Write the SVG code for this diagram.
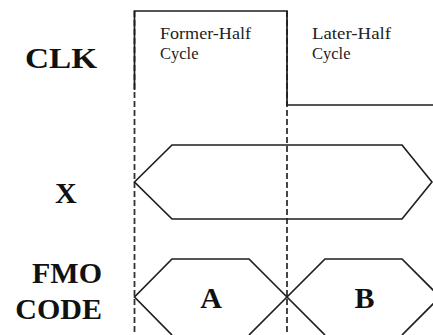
<svg xmlns="http://www.w3.org/2000/svg" width="433" height="335" viewBox="0 0 433 335">
  <style>
    .label { font-family: "Liberation Serif", Tinos, "DejaVu Serif", serif; font-weight: bold; font-size: 30px; fill: #111; }
    .note { font-family: "Liberation Serif", Tinos, "DejaVu Serif", serif; font-size: 16.5px; fill: #222; }
    .wave { fill: none; stroke: #1e1e1e; stroke-width: 1.7; stroke-linejoin: miter; }
    .guide { fill: none; stroke: #333; stroke-width: 1.8; stroke-dasharray: 6 3; }
  </style>
  <rect width="433" height="335" fill="#fff"/>

  <!-- signal names -->
  <g id="names">
    <text class="label" x="25" y="68" textLength="72" lengthAdjust="spacingAndGlyphs">CLK</text>
    <text class="label" x="55" y="203">X</text>
    <text class="label" x="102" y="283" text-anchor="end">FMO</text>
    <text class="label" x="102" y="319" text-anchor="end">CODE</text>
  </g>

  <!-- half-cycle boundaries -->
  <g id="connectors">
    <line class="guide" x1="134.5" y1="11" x2="134.5" y2="335"/>
    <line class="guide" x1="287" y1="11" x2="287" y2="335"/>
  </g>

  <!-- clock waveform -->
  <g id="clk">
    <path class="wave" d="M134.5,90 V11 H287 V105 H433"/>
    <text class="note" x="160" y="39" textLength="91" lengthAdjust="spacingAndGlyphs">Former-Half</text>
    <text class="note" x="160" y="58.5">Cycle</text>
    <text class="note" x="312" y="39" textLength="79" lengthAdjust="spacingAndGlyphs">Later-Half</text>
    <text class="note" x="312" y="58.5">Cycle</text>
  </g>

  <!-- X bus -->
  <g id="x">
    <path class="wave" d="M134.5,182 L172,145 H402 L432,182 L402,219 H172 Z"/>
  </g>

  <!-- FMO code slots -->
  <g id="code-a">
    <path class="wave" d="M172,335 L134.5,297 L172,259 H249 L287,297 L325,335"/>
    <text class="label" x="211" y="308" text-anchor="middle">A</text>
  </g>
  <g id="code-b">
    <path class="wave" d="M249,335 L287,297 L325,259 H402 L440,297 L402,335"/>
    <text class="label" x="364.5" y="308" text-anchor="middle">B</text>
  </g>
</svg>
